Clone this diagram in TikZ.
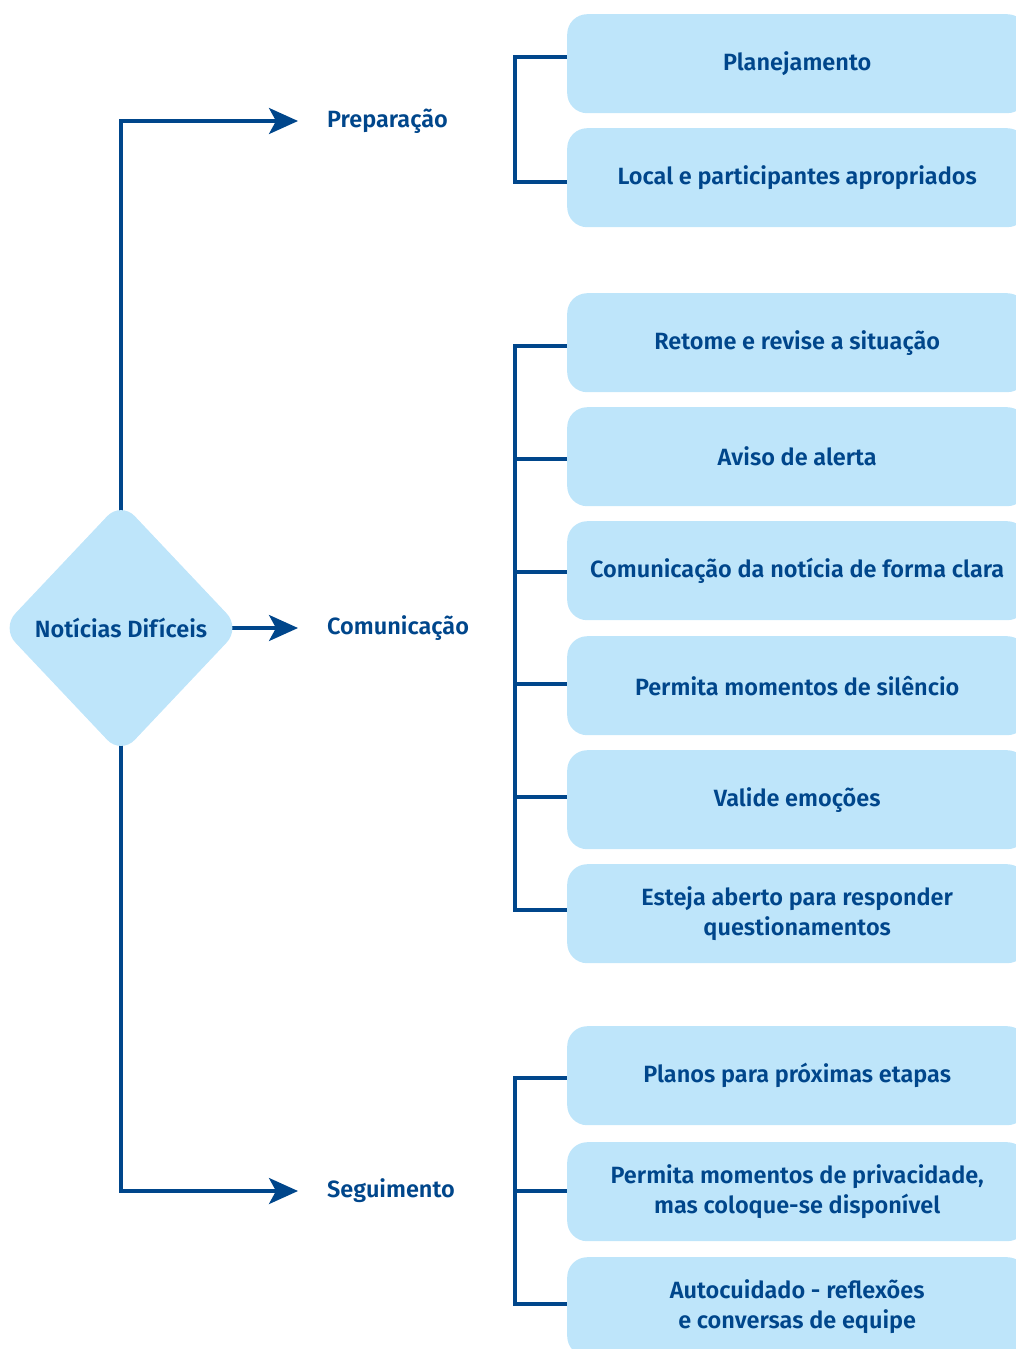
\documentclass[tikz,border=0pt]{standalone}
\usepackage{fontspec}
\setmainfont{Fira Sans}[UprightFont=* SemiBold]
\usetikzlibrary{arrows.meta,shapes.geometric,backgrounds}
\definecolor{dk}{HTML}{00468B}
\definecolor{lt}{HTML}{BEE5FA}
\begin{document}
\begin{tikzpicture}[x=1pt,y=-1pt,
 txt/.style={text=dk,font=\fontsize{23.5}{30}\selectfont},
 box/.style={txt,fill=lt,rounded corners=20pt,minimum width=460,minimum height=99,inner sep=0pt,align=center,anchor=north west},
 lab/.style={txt,anchor=west,inner sep=0pt},
 ln/.style={draw=dk,line width=3.3pt},
 arr/.style={ln,shorten >=29pt,-{Stealth[length=29pt,width=26pt,inset=7pt]}}]
\useasboundingbox (0,0) rectangle (1016,1349);
\begin{scope}
\clip (0,0) rectangle (1016,1349);
\node[box] (p1) at (567,14) {Planejamento};
\node[box] (p2) at (567,128) {Local e participantes apropriados};
\node[box] (c1) at (567,293) {Retome e revise a situação};
\node[box] (c2) at (567,407) {Aviso de alerta};
\node[box] (c3) at (567,521) {Comunicação da notícia de forma clara};
\node[box] (c4) at (567,636) {Permita momentos de silêncio};
\node[box] (c5) at (567,750) {Valide emoções};
\node[box] (c6) at (567,864) {Esteja aberto para responder\\questionamentos};
\node[box] (s1) at (567,1026) {Planos para próximas etapas};
\node[box] (s2) at (567,1142) {Permita momentos de privacidade,\\mas coloque-se disponível};
\node[box] (s3) at (567,1257) {Autocuidado - reflexões\\e conversas de equipe};
\end{scope}
\node[diamond,fill=lt,txt,aspect=0.945,minimum width=239,minimum height=253,inner sep=0pt,rounded corners=20pt] (d) at (121,628) {Notícias Difíceis};
\node[lab] (prep) at (327,121) {Preparação};
\node[lab] (com) at (327,628) {Comunicação};
\node[lab] (seg) at (327,1191) {Seguimento};
\coordinate (a1) at (515,57);
\coordinate (a2) at (515,182);
\coordinate (b1) at (515,346);
\coordinate (b2) at (515,459);
\coordinate (b3) at (515,572);
\coordinate (b4) at (515,684);
\coordinate (b5) at (515,797);
\coordinate (b6) at (515,910);
\coordinate (e1) at (515,1078);
\coordinate (e2) at (515,1191);
\coordinate (e3) at (515,1304);
\begin{scope}[on background layer]
\draw[arr] (d.center) |- (prep);
\draw[arr] (d.center) -- (com);
\draw[arr] (d.center) |- (seg);
\draw[ln] (a1 -| p1.west) -- (a1) -- (a2) -- (a2 -| p2.west);
\draw[ln] (b1 -| c1.west) -- (b1) -- (b6) -- (b6 -| c6.west);
\draw[ln] (b2) -- (b2 -| c2.west);
\draw[ln] (b3) -- (b3 -| c3.west);
\draw[ln] (b4) -- (b4 -| c4.west);
\draw[ln] (b5) -- (b5 -| c5.west);
\draw[ln] (e1 -| s1.west) -- (e1) -- (e3) -- (e3 -| s3.west);
\draw[ln] (e2) -- (e2 -| s2.west);
\end{scope}
\end{tikzpicture}
\end{document}
